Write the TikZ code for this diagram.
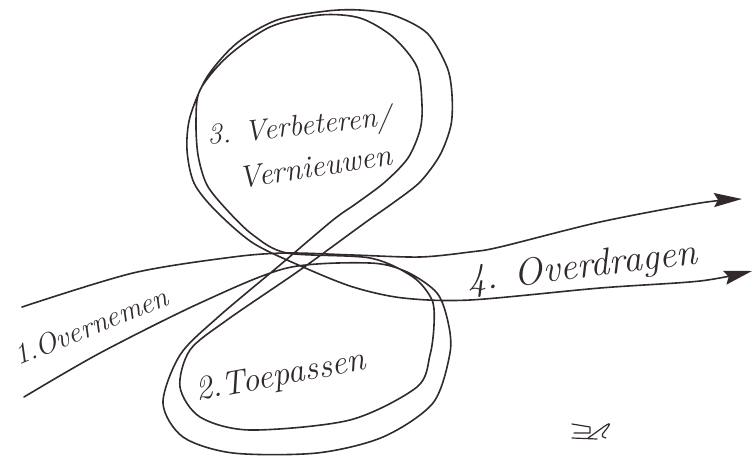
\documentclass[tikz,border=0pt]{standalone}
\usetikzlibrary{arrows.meta}
\definecolor{ink}{RGB}{50,42,42}
\newcommand{\handfont}{\itshape}
\tikzset{
  pen/.style={draw=ink, line width=1.6pt, line cap=round, line join=round},
  tip/.style={-{Stealth[length=28pt,width=14pt,inset=4pt]}},
  hand/.style={anchor=base west, inner sep=0pt, text=ink, font=\handfont},
}
\begin{document}
\begin{tikzpicture}[x=1pt, y=-1pt]
	\useasboundingbox[fill=white] (0,0) rectangle (753,456);
	% loose ends of the two strands
	\coordinate (in1) at (22,307);
	\coordinate (in2) at (24,397);
	\coordinate (out1) at (742,199);
	\coordinate (out2) at (752,271);
	% upper strand, straight through
	\draw [pen, tip] plot [smooth] coordinates {(in1) (133,273) (233,257) (287,253) (353,255) (420,257) (470,252) (500,247) (600,222) (700,203) (out1)};
	% lower strand, twice round the eight
	\draw [pen, tip] plot [smooth] coordinates {(in2) (100,353) (200,303) (287,268) (370,263) (407,272) (437,293) (448,322) (450,353) (433,403) (383,437) (317,453) (233,453) (183,437) (163,403) (180,355) (217,318) (280,265) (333,220) (357,203) (385,182) (408,158) (420,130) (422,105) (417,67) (393,37) (360,18) (320,15) (270,27) (227,57) (200,90) (196,120) (198,155) (207,185) (227,210) (253,235) (287,253) (370,258) (413,277) (432,300) (434,325) (430,355) (417,387) (350,420) (250,430) (200,417) (180,387) (190,350) (227,320) (300,270) (366,222) (393,203) (420,182) (440,155) (451,125) (452,95) (447,67) (427,33) (393,15) (360,10) (327,11) (277,20) (237,43) (207,77) (190,117) (187,150) (194,183) (215,210) (253,243) (303,267) (353,287) (403,298) (470,300) (600,288) (700,281) (out2)};
	% the four steps
	\node [hand, rotate=22, font=\handfont\fontsize{29}{29}\selectfont] (overnemen) at (18,366) {1.Overnemen};
	\node [hand, rotate=10.5, font=\handfont\fontsize{34}{34}\selectfont] (toepassen) at (197,401) {2.Toepassen};
	\node [hand, rotate=6, font=\handfont\fontsize{29.5}{30}\selectfont] (verbeteren) at (208,145) {3. Verbeteren/};
	\node [hand, rotate=9, font=\handfont\fontsize{31}{31}\selectfont] (vernieuwen) at (240,189) {Vernieuwen};
	\node [hand, rotate=7, font=\handfont\fontsize{38}{38}\selectfont] (overdragen) at (468,292) {4. Overdragen};
	% signature
	\draw [pen, line width=1.2pt] (572,424) -- (590,427) -- (590,433) -- (574,433);
	\draw [pen, line width=1.2pt] (572,438) -- (597,439);
	\draw [pen, line width=1.2pt] (588,438) .. controls (600,430) and (614,418) .. (608,427) .. controls (604,433) and (598,436) .. (606,438);
\end{tikzpicture}
\end{document}
